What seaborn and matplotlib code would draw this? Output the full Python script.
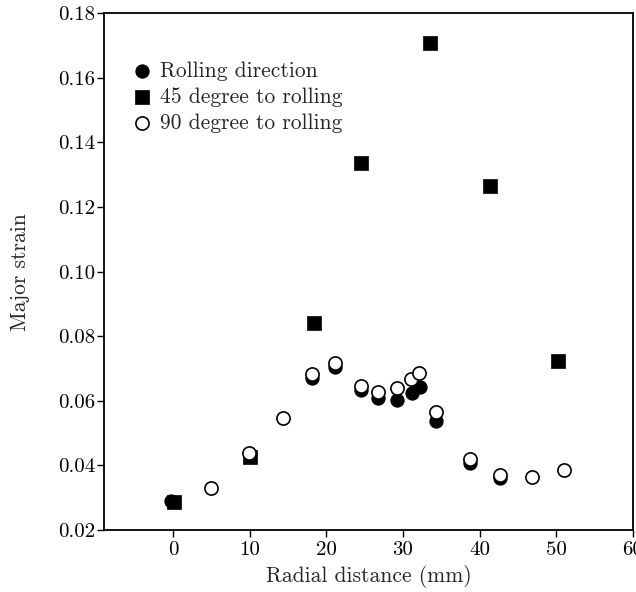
import matplotlib
matplotlib.use("Agg")
import matplotlib.pyplot as plt
import seaborn as sns
import pandas as pd

# Major strain vs radial distance for three sheet orientations
rolling_x = [-0.3, 18.1, 21.2, 24.5, 26.8, 29.2, 31.2, 32.2, 34.3, 38.7, 42.7]
rolling_y = [0.029, 0.067, 0.0706, 0.0634, 0.0608, 0.0603, 0.0623, 0.0644, 0.0539, 0.0407, 0.036]

deg45_x = [0.2, 10.1, 18.4, 24.5, 33.6, 41.4, 50.2]
deg45_y = [0.0288, 0.0425, 0.0842, 0.1336, 0.1709, 0.1266, 0.0724]

deg90_x = [4.9, 9.9, 14.4, 18.1, 21.2, 24.5, 26.8, 29.2, 31.1, 32.1, 34.3, 38.7, 42.7, 46.9, 51.0]
deg90_y = [0.0331, 0.0439, 0.0546, 0.0683, 0.0718, 0.0646, 0.0628, 0.0639, 0.0667, 0.0685,
           0.0565, 0.0419, 0.037, 0.0365, 0.0386]

series_names = ["Rolling direction", "45 degree to rolling", "90 degree to rolling"]
x_ticks = [0, 10, 20, 30, 40, 50, 60]
y_ticks = [0.02, 0.04, 0.06, 0.08, 0.10, 0.12, 0.14, 0.16, 0.18]

sns.set_style("ticks")
plt.rcParams["font.family"] = ["cmr10", "DejaVu Serif"]
plt.rcParams["axes.formatter.use_mathtext"] = True
plt.rcParams["mathtext.fontset"] = "cm"

fig = plt.figure(figsize=(6.36, 5.92), dpi=100)
ax = fig.add_axes([0.1635, 0.1047, 0.8315, 0.8728])

df_roll = pd.DataFrame({"x": rolling_x, "y": rolling_y})
df_45 = pd.DataFrame({"x": deg45_x, "y": deg45_y})
df_90 = pd.DataFrame({"x": deg90_x, "y": deg90_y})

sns.scatterplot(data=df_roll, x="x", y="y", ax=ax, marker="o", s=90,
                color="black", edgecolor="black", linewidth=0.8,
                label=series_names[0], zorder=3)
sns.scatterplot(data=df_45, x="x", y="y", ax=ax, marker="s", s=90,
                color="black", edgecolor="black", linewidth=0.5,
                label=series_names[1], zorder=4)
sns.scatterplot(data=df_90, x="x", y="y", ax=ax, marker="o", s=90,
                facecolor="white", edgecolor="black", linewidth=1.2,
                label=series_names[2], zorder=5)

ax.set_xlim(-9, 60)
ax.set_ylim(0.02, 0.18)
ax.set_xticks(x_ticks)
ax.set_yticks(y_ticks)
ax.set_yticklabels([f"{v:.2f}" for v in y_ticks])
ax.set_xticklabels([str(v) for v in x_ticks])

for side in ["left", "right", "top", "bottom"]:
    ax.spines[side].set_visible(True)
    ax.spines[side].set_linewidth(1.3)
    ax.spines[side].set_color("black")

ax.tick_params(axis="both", direction="out", length=5, width=1.0,
               labelsize=15, colors="black")
ax.tick_params(axis="y", pad=1.5)
ax.tick_params(axis="x", pad=3)

ax.set_xlabel("Radial distance (mm)", fontsize=15.5, labelpad=4)
ax.set_ylabel("Major strain", fontsize=15.5, labelpad=20)

leg = ax.legend(loc="upper left", bbox_to_anchor=(0.035, 0.924), frameon=False,
                fontsize=15.5, handletextpad=0.35, labelspacing=0.3,
                borderaxespad=0.0, handlelength=1.0, markerscale=1.0)

fig.savefig("out.png", dpi=100)
